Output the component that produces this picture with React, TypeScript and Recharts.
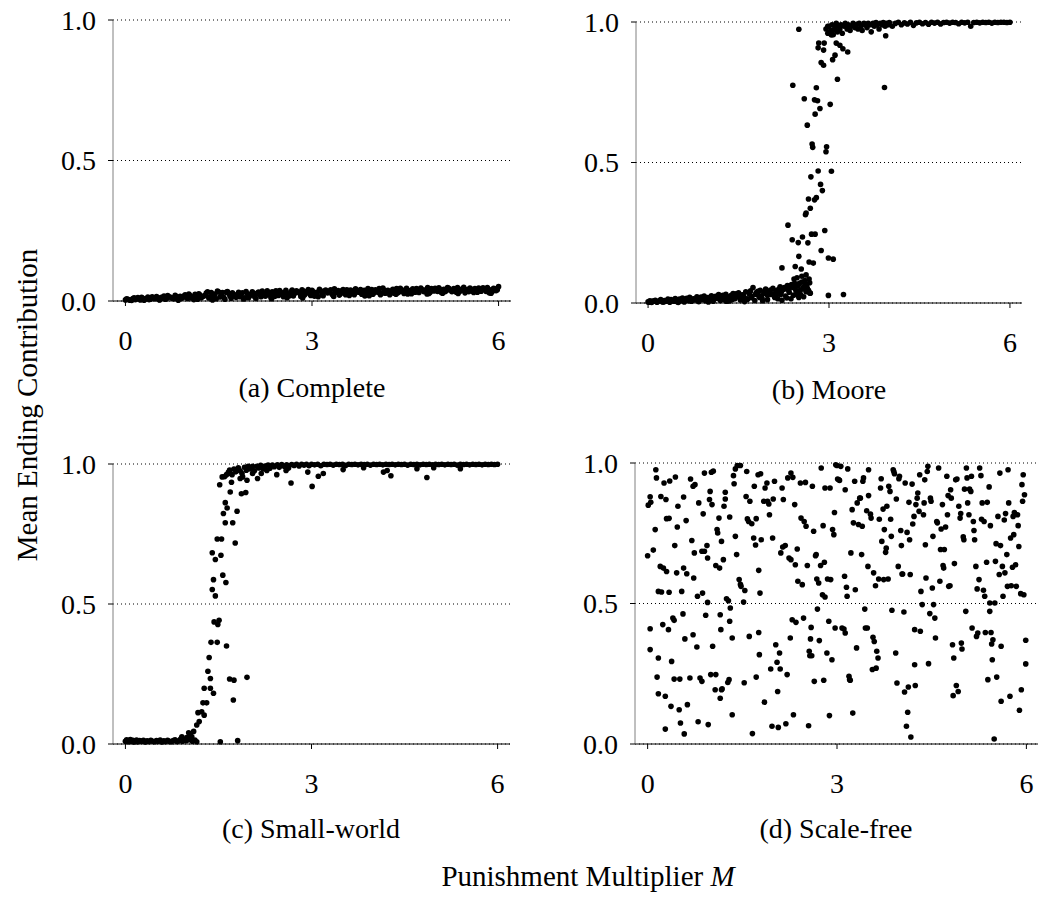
import { CartesianGrid, Scatter, ScatterChart, XAxis, YAxis } from "recharts";

// tick values and labels
const xTicks = [0, 3, 6];
const yTicks = [0, 0.5, 1];
const panelTitles = ["(a) Complete", "(b) Moore", "(c) Small-world", "(d) Scale-free"];
const xTitle = "Punishment Multiplier";
const yTitle = "Mean Ending Contribution";

// (a) complete network: [M, mean ending contribution]
const complete: number[][] = [
  [0.00,0.004],[0.04,0.006],[0.08,0.003],[0.12,0.009],[0.16,0.005],[0.20,0.012],[0.24,0.004],[0.28,0.010],[0.32,0.007],[0.36,0.014],
  [0.40,0.006],[0.45,0.011],[0.50,0.016],[0.54,0.005],[0.58,0.013],[0.62,0.018],[0.66,0.008],[0.70,0.015],[0.75,0.010],[0.80,0.020],
  [0.84,0.007],[0.88,0.017],[0.92,0.012],[0.96,0.022],[1.00,0.009],[1.04,0.019],[1.08,0.014],[1.12,0.024],[1.16,0.006],[1.20,0.021],
  [1.25,0.016],[1.30,0.028],[1.34,0.011],[1.38,0.030],[1.42,0.018],[1.46,0.008],[1.50,0.032],[1.54,0.022],[1.58,0.013],[1.62,0.031],
  [1.66,0.027],[1.70,0.010],[1.75,0.020],[1.80,0.024],[1.84,0.015],[1.88,0.029],[1.92,0.011],[1.96,0.026],[2.00,0.019],[2.04,0.033],
  [2.08,0.014],[2.12,0.028],[2.16,0.022],[2.20,0.035],[2.25,0.017],[2.30,0.030],[2.34,0.012],[2.38,0.026],[2.42,0.036],[2.46,0.020],
  [2.50,0.031],[2.54,0.015],[2.58,0.038],[2.62,0.025],[2.66,0.033],[2.70,0.018],[2.75,0.036],[2.80,0.028],[2.84,0.040],[2.88,0.021],
  [2.92,0.034],[2.96,0.026],[3.00,0.038],[3.04,0.017],[3.08,0.031],[3.12,0.042],[3.16,0.024],[3.20,0.035],[3.25,0.029],[3.30,0.040],
  [3.34,0.020],[3.38,0.033],[3.42,0.037],[3.46,0.026],[3.50,0.041],[3.54,0.022],[3.58,0.034],[3.62,0.039],[3.66,0.028],[3.70,0.043],
  [3.75,0.031],[3.80,0.024],[3.84,0.038],[3.88,0.035],[3.92,0.019],[3.96,0.041],[4.00,0.030],[4.04,0.036],[4.08,0.044],[4.12,0.027],
  [4.16,0.039],[4.20,0.033],[4.25,0.022],[4.30,0.042],[4.34,0.036],[4.38,0.029],[4.42,0.045],[4.46,0.034],[4.50,0.040],[4.54,0.025],
  [4.58,0.037],[4.62,0.043],[4.66,0.031],[4.70,0.038],[4.75,0.046],[4.80,0.033],[4.84,0.041],[4.88,0.027],[4.92,0.044],[4.96,0.036],
  [5.00,0.039],[5.04,0.047],[5.08,0.030],[5.12,0.042],[5.16,0.037],[5.20,0.045],[5.25,0.033],[5.30,0.040],[5.34,0.048],[5.38,0.035],
  [5.42,0.043],[5.46,0.029],[5.50,0.041],[5.54,0.046],[5.58,0.036],[5.62,0.044],[5.66,0.031],[5.70,0.039],[5.75,0.047],[5.80,0.034],
  [5.84,0.042],[5.88,0.028],[5.92,0.045],[5.96,0.037],[6.00,0.051],
  [0.10,0.002],[0.30,0.003],[0.55,0.004],[0.85,0.003],[1.10,0.005],[1.40,0.004],[1.60,0.006],[1.90,0.007],[2.10,0.009],[2.35,0.008],
  [2.60,0.012],[2.85,0.011],[3.10,0.015],[3.35,0.016],[3.60,0.020],[3.85,0.018],[4.10,0.022],[4.35,0.024],[4.60,0.026],[4.85,0.025],
  [5.10,0.028],[5.35,0.027],[5.60,0.030],[5.85,0.029],
  [0.02,0.008],[0.06,0.004],[0.14,0.011],[0.22,0.007],[0.26,0.013],[0.34,0.009],[0.38,0.005],[0.43,0.015],[0.48,0.008],[0.52,0.012],
  [0.60,0.010],[0.64,0.006],[0.68,0.019],[0.73,0.013],[0.78,0.008],[0.82,0.016],[0.90,0.010],[0.94,0.018],[0.98,0.014],[1.02,0.025],
  [1.06,0.011],[1.14,0.017],[1.18,0.026],[1.22,0.012],[1.28,0.020],[1.32,0.033],[1.36,0.015],[1.44,0.025],[1.48,0.035],[1.52,0.014],
  [1.56,0.030],[1.64,0.034],[1.68,0.018],[1.72,0.029],[1.78,0.013],[1.82,0.031],[1.86,0.021],[1.94,0.034],[1.98,0.012],[2.02,0.025],
  [2.06,0.022],[2.14,0.032],[2.18,0.015],[2.22,0.027],[2.28,0.036],[2.32,0.021],[2.36,0.033],[2.40,0.016],[2.44,0.029],[2.48,0.037],
  [2.52,0.023],[2.56,0.030],[2.64,0.019],[2.68,0.039],[2.72,0.027],[2.78,0.033],[2.82,0.016],[2.86,0.035],[2.90,0.029],[2.94,0.041],
  [2.98,0.020],[3.02,0.033],[3.06,0.027],[3.14,0.036],[3.18,0.019],[3.22,0.039],[3.28,0.033],[3.32,0.025],[3.36,0.043],[3.40,0.030],
  [3.44,0.021],[3.48,0.036],[3.52,0.032],[3.56,0.040],[3.64,0.035],[3.68,0.022],[3.72,0.037],[3.78,0.041],[3.82,0.030],[3.86,0.026],
  [3.90,0.044],[3.94,0.033],[3.98,0.024],[4.02,0.040],[4.06,0.031],[4.14,0.046],[4.18,0.028],[4.22,0.038],[4.28,0.035],[4.32,0.028],
  [4.36,0.044],[4.40,0.032],[4.44,0.039],[4.48,0.027],[4.52,0.045],[4.56,0.034],[4.64,0.038],[4.68,0.044],[4.72,0.030],[4.78,0.040],
  [4.82,0.036],[4.86,0.048],[4.90,0.031],[4.94,0.040],[4.98,0.045],[5.02,0.034],[5.06,0.041],[5.14,0.033],[5.18,0.048],[5.22,0.039],
  [5.28,0.044],[5.32,0.031],[5.36,0.042],[5.40,0.038],[5.44,0.049],[5.48,0.036],[5.52,0.033],[5.56,0.042],[5.64,0.039],[5.68,0.046],
  [5.72,0.035],[5.78,0.041],[5.82,0.048],[5.86,0.038],[5.90,0.034],[5.94,0.043],[5.98,0.040],
];

// (b) Moore neighbourhood
const moore: number[][] = [
  [0.00,0.004],[0.03,0.008],[0.06,0.002],[0.09,0.006],[0.12,0.010],[0.15,0.003],[0.18,0.007],[0.21,0.012],[0.24,0.004],[0.27,0.009],
  [0.30,0.006],[0.33,0.014],[0.36,0.003],[0.39,0.010],[0.42,0.007],[0.45,0.016],[0.48,0.005],[0.51,0.011],[0.54,0.008],[0.57,0.018],
  [0.60,0.004],[0.63,0.013],[0.66,0.009],[0.69,0.020],[0.72,0.006],[0.75,0.015],[0.78,0.011],[0.81,0.022],[0.84,0.005],[0.87,0.017],
  [0.90,0.012],[0.93,0.025],[0.96,0.008],[0.99,0.019],[1.02,0.014],[1.05,0.026],[1.08,0.006],[1.11,0.021],[1.14,0.016],[1.17,0.030],
  [1.20,0.009],[1.23,0.023],[1.26,0.013],[1.29,0.031],[1.32,0.018],[1.35,0.007],[1.38,0.027],[1.41,0.034],[1.44,0.015],[1.47,0.024],
  [1.50,0.036],[1.53,0.011],[1.56,0.029],[1.59,0.020],[1.62,0.040],[1.65,0.013],[1.68,0.032],[1.71,0.024],[1.74,0.055],[1.77,0.009],
  [1.80,0.038],[1.83,0.027],[1.86,0.045],[1.89,0.017],[1.92,0.035],[1.95,0.050],[1.98,0.012],[2.01,0.041],[2.04,0.030],[2.07,0.052],
  [2.10,0.020],[2.13,0.044],[2.16,0.034],[2.19,0.058],[2.22,0.010],[2.25,0.048],[2.28,0.025],[2.31,0.062],[2.34,0.038],[2.37,0.015],
  [2.40,0.055],[2.43,0.070],[2.46,0.030],[2.49,0.062],[2.52,0.045],[2.55,0.075],[2.58,0.022],[2.61,0.068],[2.64,0.052],[2.67,0.085],
  [2.69,0.035],[0.50,0.002],[1.00,0.004],[1.30,0.006],[1.60,0.005],[1.90,0.008],[2.20,0.030],[2.35,0.060],[2.45,0.045],[2.58,0.058],
  [2.62,0.040],[2.50,0.020],[2.15,0.015],[1.85,0.020],[1.70,0.043],[1.45,0.030],[2.42,0.085],[2.47,0.090],[2.55,0.095],[2.62,0.100],
  [0.02,0.003],[0.08,0.007],[0.14,0.005],[0.20,0.009],[0.26,0.004],[0.32,0.008],[0.38,0.012],[0.44,0.006],[0.52,0.014],[0.58,0.009],
  [0.64,0.017],[0.70,0.008],[0.76,0.013],[0.82,0.010],[0.88,0.021],[0.94,0.012],[1.00,0.018],[1.06,0.011],[1.12,0.024],[1.18,0.015],
  [1.24,0.027],[1.28,0.010],[1.34,0.022],[1.40,0.013],[1.46,0.033],[1.52,0.019],[1.58,0.028],[1.64,0.015],[1.68,0.037],[1.72,0.019],
  [1.78,0.031],[1.82,0.042],[1.88,0.025],[1.94,0.040],[1.98,0.028],[2.03,0.046],[2.08,0.033],[2.12,0.024],[2.17,0.050],[2.21,0.039],
  [2.26,0.055],[2.30,0.018],[2.33,0.045],[2.38,0.066],[2.41,0.028],[2.44,0.058],[2.48,0.038],[2.51,0.070],[2.53,0.030],[2.56,0.050],
  [2.60,0.080],[2.63,0.062],[2.66,0.045],[2.68,0.072],
  [2.50,0.974],[2.40,0.775],[2.59,0.727],[2.79,0.766],[2.76,0.723],[2.81,0.720],[2.85,0.692],[2.77,0.672],[2.64,0.633],[3.02,0.707],
  [2.72,0.566],[2.73,0.554],[2.96,0.556],[2.95,0.538],[3.04,0.469],[2.82,0.470],[2.70,0.449],[2.86,0.422],[2.89,0.400],[2.66,0.370],
  [2.76,0.367],[2.79,0.375],[2.69,0.337],[2.61,0.314],[2.62,0.320],[2.32,0.277],[2.93,0.258],[2.71,0.245],[2.77,0.245],[2.56,0.235],
  [2.39,0.225],[2.49,0.215],[2.65,0.214],[2.87,0.187],[2.50,0.166],[2.99,0.160],[3.07,0.156],[2.67,0.146],[2.74,0.142],[2.44,0.130],
  [2.22,0.125],[2.54,0.121],[2.99,0.027],[3.24,0.030],[2.68,0.036],[2.82,0.908],[2.83,0.925],[2.92,0.925],[2.91,0.900],[2.87,0.856],
  [2.91,0.846],[3.06,0.866],[3.10,0.882],[3.12,0.925],[3.18,0.917],[3.23,0.905],[3.31,0.893],[3.14,0.796],[3.92,0.767],[3.94,0.951],
  [3.04,0.954],[2.98,0.985],[3.09,0.973],
  [2.95,0.975],[2.98,0.960],[3.00,0.985],[3.03,0.970],[3.05,0.990],[3.07,0.955],[3.10,0.980],[3.12,0.995],[3.14,0.965],[3.16,0.985],
  [3.18,0.975],[3.20,0.990],[3.22,0.960],[3.25,0.985],[3.27,0.995],[3.30,0.975],[3.32,0.990],[3.35,0.970],[3.37,0.985],[3.40,0.995],
  [3.43,0.980],[3.45,0.990],[3.48,0.975],[3.50,0.995],[3.53,0.985],[3.55,0.970],[3.58,0.995],[3.60,0.990],[3.63,0.980],[3.65,0.995],
  [3.68,0.990],[3.70,0.965],[3.73,0.995],[3.75,0.985],[3.78,0.998],[3.80,0.990],[3.83,0.975],[3.85,0.995],[3.88,0.990],[3.90,0.998],
  [3.93,0.985],[3.95,0.995],[3.98,0.990],[4.00,0.998],[4.05,0.985],[4.10,0.995],[4.15,0.999],[4.20,0.990],[4.25,0.997],[4.30,0.993],
  [4.35,0.999],[4.40,0.988],[4.45,0.997],[4.50,0.999],[4.55,0.994],[4.60,0.998],[4.65,0.992],[4.70,0.999],[4.75,0.996],[4.80,0.999],
  [4.85,0.993],[4.90,0.998],[4.95,0.999],[5.00,0.996],[5.05,0.999],[5.10,0.998],[5.15,0.994],[5.20,0.999],[5.25,0.997],[5.30,0.999],
  [5.35,0.985],[5.40,0.998],[5.45,0.999],[5.50,0.997],[5.55,0.999],[5.60,0.998],[5.65,0.999],[5.70,0.996],[5.75,0.999],[5.80,0.998],
  [5.85,0.999],[5.90,0.999],[5.95,0.998],[6.00,0.999],
];

// (c) small-world network
const smallWorld: number[][] = [
  [0.00,0.010],[0.02,0.015],[0.04,0.008],[0.06,0.012],[0.08,0.016],[0.10,0.009],[0.12,0.013],[0.14,0.007],[0.16,0.011],[0.18,0.014],
  [0.20,0.008],[0.23,0.012],[0.26,0.010],[0.29,0.013],[0.32,0.007],[0.35,0.011],[0.38,0.009],[0.41,0.013],[0.44,0.010],[0.47,0.008],
  [0.50,0.012],[0.53,0.010],[0.56,0.014],[0.59,0.007],[0.62,0.011],[0.65,0.009],[0.68,0.013],[0.71,0.010],[0.74,0.008],[0.77,0.012],
  [0.80,0.015],[0.83,0.009],[0.86,0.011],[0.89,0.018],[0.92,0.010],[0.95,0.014],[0.98,0.012],[1.00,0.020],[1.03,0.015],[1.05,0.030],
  [1.08,0.010],[1.10,0.045],
  [1.02,0.040],[1.07,0.026],[1.12,0.014],[1.15,0.008],[0.91,0.026],[0.99,0.023],[1.15,0.068],[1.19,0.080],[1.17,0.112],[1.23,0.115],
  [1.27,0.103],[1.31,0.147],[1.25,0.147],[1.27,0.199],[1.37,0.199],[1.42,0.181],[1.33,0.260],[1.37,0.234],[1.35,0.309],[1.38,0.363],
  [1.48,0.363],[1.63,0.350],[1.43,0.436],[1.51,0.442],[1.49,0.427],[1.40,0.552],[1.45,0.529],[1.42,0.587],[1.57,0.603],[1.62,0.577],
  [1.40,0.683],[1.45,0.659],[1.54,0.674],[1.48,0.732],[1.55,0.732],[1.77,0.718],[1.61,0.790],[1.73,0.790],[1.58,0.823],[1.64,0.843],
  [1.80,0.831],[1.61,0.862],[1.69,0.900],[1.87,0.894],[1.94,0.898],[1.52,0.926],[1.71,0.935],[1.56,0.954],[1.69,0.966],[1.85,0.948],
  [1.89,0.954],[1.96,0.942],[2.05,0.966],[2.13,0.948],[2.19,0.966],[2.28,0.977],[2.44,0.962],[2.59,0.977],[2.67,0.932],[2.94,0.971],
  [3.01,0.920],[3.11,0.956],[3.19,0.966],[3.51,0.980],[3.84,0.987],[4.16,0.971],[4.22,0.977],[4.28,0.958],[4.70,0.983],[4.86,0.952],
  [4.97,0.987],[5.40,0.983],[1.53,0.008],[1.81,0.012],[1.68,0.232],[1.75,0.228],[1.74,0.157],[1.96,0.238],
  [1.60,0.955],[1.63,0.962],[1.66,0.970],[1.68,0.978],[1.72,0.962],[1.75,0.982],[1.78,0.972],[1.82,0.986],[1.85,0.976],[1.88,0.966],
  [1.92,0.988],[1.95,0.978],[1.98,0.992],[2.02,0.982],[2.05,0.992],[2.08,0.976],[2.12,0.992],[2.15,0.986],[2.18,0.995],[2.22,0.982],
  [2.25,0.993],[2.30,0.996],[2.33,0.985],[2.37,0.996],[2.40,0.990],[2.45,0.997],[2.48,0.988],[2.52,0.998],[2.56,0.992],[2.60,0.997],
  [2.63,0.986],[2.68,0.998],[2.72,0.995],[2.76,0.999],[2.80,0.993],[2.84,0.999],[2.88,0.996],[2.92,0.999],[2.96,0.994],[3.00,0.999],
  [3.05,0.997],[3.10,0.999],[3.15,0.994],[3.20,0.999],[3.25,0.998],[3.30,0.999],[3.35,0.996],[3.40,0.999],[3.45,0.998],[3.50,0.999],
  [3.55,0.995],[3.60,0.999],[3.65,0.998],[3.70,0.999],[3.75,0.997],[3.80,0.999],[3.85,0.998],[3.90,0.999],[3.95,0.996],[4.00,0.999],
  [4.05,0.998],[4.10,0.999],[4.15,0.997],[4.20,0.999],[4.25,0.998],[4.30,0.999],[4.35,0.997],[4.40,0.999],[4.45,0.998],[4.50,0.999],
  [4.55,0.996],[4.60,0.999],[4.65,0.998],[4.70,0.999],[4.75,0.997],[4.80,0.999],[4.85,0.998],[4.90,0.999],[4.95,0.997],[5.00,0.999],
  [5.05,0.998],[5.10,0.999],[5.15,0.997],[5.20,0.999],[5.25,0.998],[5.30,0.999],[5.35,0.996],[5.40,0.999],[5.45,0.998],[5.50,0.999],
  [5.55,0.997],[5.60,0.999],[5.65,0.998],[5.70,0.999],[5.75,0.997],[5.80,0.999],[5.85,0.998],[5.90,0.999],[5.95,0.998],[6.00,0.999],
];

// (d) scale-free network
const scaleFree: number[][] = [
  [0.01,0.850],[0.04,0.880],[0.05,0.860],[0.00,0.670],[0.09,0.690],[0.13,0.976],[0.14,0.947],[0.12,0.763],[0.04,0.410],[0.04,0.336],
  [0.15,0.238],[0.17,0.179],[0.17,0.306],[0.20,0.632],[0.17,0.543],[0.22,0.541],[0.21,0.881],[0.24,0.425],[0.28,0.170],[0.28,0.053],
  [0.26,0.929],[0.29,0.870],[0.25,0.626],[0.30,0.802],[0.33,0.407],[0.30,0.614],[0.34,0.803],[0.35,0.936],[0.34,0.540],[0.38,0.294],
  [0.37,0.134],[0.40,0.448],[0.42,0.440],[0.42,0.231],[0.44,0.950],[0.43,0.706],[0.46,0.609],[0.47,0.772],[0.48,0.846],[0.50,0.122],
  [0.51,0.231],[0.52,0.075],[0.54,0.543],[0.56,0.463],[0.58,0.036],[0.57,0.626],[0.59,0.374],[0.61,0.795],[0.63,0.140],[0.57,0.879],
  [0.62,0.606],[0.68,0.943],[0.70,0.724],[0.72,0.917],[0.67,0.235],[0.73,0.591],[0.74,0.680],[0.72,0.389],[0.75,0.923],[0.78,0.345],
  [0.79,0.526],[0.80,0.079],[0.81,0.858],[0.83,0.235],[0.86,0.223],[0.87,0.537],[0.86,0.686],[0.88,0.819],[0.90,0.964],[0.90,0.686],
  [0.92,0.458],[0.95,0.504],[0.94,0.706],[0.95,0.662],[0.96,0.069],[0.98,0.870],[0.99,0.899],[1.00,0.247],[1.01,0.967],[1.03,0.348],
  [1.04,0.971],[1.02,0.852],[1.07,0.193],[1.08,0.635],[1.08,0.247],[1.10,0.763],[1.11,0.751],[1.13,0.804],[1.14,0.626],[1.15,0.163],
  [1.15,0.460],[1.17,0.193],[1.18,0.196],[1.16,0.407],[1.17,0.721],[1.20,0.656],[1.21,0.846],[1.23,0.896],[1.23,0.872],[1.25,0.517],
  [1.28,0.510],[1.31,0.484],[1.30,0.808],[1.27,0.219],[1.29,0.229],[1.30,0.437],[1.34,0.104],[1.34,0.377],[1.36,0.955],[1.37,0.926],
  [1.39,0.739],[1.41,0.674],[1.39,0.979],[1.42,0.991],[1.47,0.991],[1.45,0.585],[1.47,0.568],[1.48,0.561],[1.52,0.505],[1.53,0.218],
  [1.54,0.546],[1.56,0.881],[1.57,0.970],[1.58,0.801],[1.60,0.792],[1.61,0.383],[1.62,0.864],[1.65,0.784],[1.66,0.037],[1.68,0.733],
  [1.69,0.917],[1.71,0.708],[1.72,0.238],[1.72,0.802],[1.75,0.958],[1.76,0.397],[1.76,0.618],[1.77,0.318],[1.78,0.537],[1.79,0.962],
  [1.80,0.727],[1.84,0.864],[1.85,0.149],[1.86,0.911],[1.89,0.929],[1.90,0.864],[1.92,0.854],[1.93,0.816],[1.95,0.267],[1.97,0.063],
  [1.98,0.733],[1.99,0.872],[2.01,0.935],[2.03,0.353],[2.05,0.291],[2.06,0.187],[2.07,0.059],[2.09,0.324],[2.10,0.267],[2.11,0.680],
  [2.13,0.911],[2.14,0.701],[2.15,0.870],[2.18,0.706],[2.19,0.072],[2.21,0.247],[2.22,0.947],[2.24,0.662],[2.26,0.377],[2.27,0.964],
  [2.27,0.656],[2.29,0.442],[2.30,0.949],[2.31,0.104],[2.34,0.638],[2.33,0.852],[2.35,0.433],[2.37,0.694],[2.38,0.579],[2.42,0.929],
  [2.43,0.804],[2.45,0.567],[2.47,0.448],[2.48,0.792],[2.50,0.931],[2.51,0.775],[2.53,0.635],[2.55,0.065],[2.56,0.330],[2.57,0.314],
  [2.58,0.374],[2.59,0.415],[2.60,0.314],[2.61,0.917],[2.63,0.757],[2.64,0.223],[2.66,0.670],[2.67,0.674],[2.68,0.587],[2.69,0.480],
  [2.71,0.573],[2.72,0.368],[2.74,0.635],[2.75,0.982],[2.77,0.531],[2.78,0.777],[2.79,0.227],[2.80,0.647],[2.81,0.911],[2.81,0.523],
  [2.84,0.324],[2.85,0.587],[2.87,0.437],[2.88,0.101],[2.89,0.911],[2.90,0.585],[2.92,0.300],[2.93,0.763],[2.95,0.745],[2.96,0.824],
  [2.97,0.413],[2.98,0.994],[3.00,0.991],[3.01,0.943],[3.03,0.940],[3.04,0.938],[3.06,0.988],[3.08,0.413],[3.11,0.409],[3.12,0.597],
  [3.13,0.395],[3.13,0.905],[3.15,0.558],[3.16,0.526],[3.17,0.979],[3.19,0.241],[3.20,0.229],[3.21,0.227],[3.22,0.680],[3.24,0.834],
  [3.25,0.110],[3.26,0.787],[3.28,0.935],[3.29,0.549],[3.31,0.342],[3.32,0.858],[3.34,0.781],[3.36,0.875],[3.37,0.875],[3.39,0.674],
  [3.40,0.775],[3.41,0.935],[3.42,0.947],[3.44,0.480],[3.45,0.413],[3.47,0.830],[3.48,0.413],[3.49,0.632],[3.50,0.976],[3.50,0.884],
  [3.53,0.818],[3.54,0.804],[3.56,0.265],[3.57,0.380],[3.58,0.609],[3.59,0.365],[3.61,0.563],[3.62,0.270],[3.63,0.330],[3.65,0.306],
  [3.66,0.587],[3.67,0.800],[3.69,0.911],[3.70,0.944],[3.71,0.721],[3.73,0.836],[3.74,0.585],[3.75,0.763],[3.77,0.682],[3.78,0.697],
  [3.79,0.846],[3.81,0.587],[3.82,0.917],[3.84,0.899],[3.85,0.800],[3.86,0.739],[3.87,0.476],[3.89,0.976],[3.90,0.970],[3.91,0.962],
  [3.93,0.324],[3.94,0.872],[3.95,0.217],[3.97,0.632],[3.98,0.944],[3.99,0.953],[4.01,0.760],[4.02,0.706],[4.03,0.605],[4.04,0.605],
  [4.06,0.470],[4.07,0.185],[4.08,0.929],[4.10,0.063],[4.11,0.753],[4.12,0.113],[4.13,0.203],[4.14,0.860],[4.15,0.727],[4.16,0.603],
  [4.17,0.025],[4.19,0.925],[4.20,0.783],[4.22,0.810],[4.23,0.407],[4.23,0.282],[4.24,0.208],[4.25,0.852],[4.27,0.875],[4.28,0.893],
  [4.30,0.828],[4.31,0.958],[4.32,0.401],[4.33,0.543],[4.35,0.496],[4.37,0.816],[4.38,0.858],[4.39,0.940],[4.40,0.709],[4.41,0.591],
  [4.43,0.970],[4.44,0.988],[4.45,0.286],[4.47,0.464],[4.48,0.875],[4.49,0.864],[4.51,0.555],[4.52,0.739],[4.53,0.496],[4.55,0.448],
  [4.56,0.377],[4.58,0.792],[4.59,0.787],[4.61,0.982],[4.63,0.579],[4.64,0.692],[4.65,0.765],[4.67,0.852],[4.68,0.635],[4.69,0.626],
  [4.70,0.692],[4.72,0.772],[4.74,0.953],[4.75,0.816],[4.76,0.884],[4.77,0.561],[4.79,0.563],[4.80,0.905],[4.81,0.875],[4.83,0.353],
  [4.84,0.172],[4.85,0.306],[4.86,0.642],[4.88,0.940],[4.89,0.208],[4.90,0.943],[4.92,0.187],[4.93,0.846],[4.95,0.804],[4.96,0.820],
  [4.97,0.359],[4.98,0.338],[5.00,0.737],[5.01,0.727],[5.02,0.907],[5.04,0.472],[5.05,0.982],[5.06,0.947],[5.07,0.858],[5.09,0.816],
  [5.10,0.907],[5.12,0.899],[5.13,0.953],[5.14,0.413],[5.16,0.792],[5.17,0.760],[5.18,0.727],[5.20,0.632],[5.21,0.383],[5.22,0.552],
  [5.23,0.395],[5.25,0.585],[5.26,0.982],[5.28,0.955],[5.29,0.800],[5.30,0.858],[5.32,0.547],[5.33,0.792],[5.34,0.526],[5.35,0.397],
  [5.37,0.647],[5.38,0.860],[5.39,0.229],[5.41,0.915],[5.42,0.502],[5.42,0.472],[5.43,0.777],[5.44,0.397],[5.45,0.356],[5.46,0.300],
  [5.47,0.371],[5.49,0.018],[5.50,0.502],[5.51,0.650],[5.52,0.713],[5.53,0.238],[5.55,0.810],[5.57,0.603],[5.58,0.964],[5.59,0.706],
  [5.60,0.348],[5.60,0.152],[5.62,0.632],[5.63,0.526],[5.65,0.797],[5.66,0.609],[5.67,0.820],[5.69,0.674],[5.70,0.561],[5.71,0.976],
  [5.72,0.858],[5.74,0.170],[5.75,0.733],[5.76,0.563],[5.78,0.629],[5.79,0.810],[5.80,0.745],[5.81,0.824],[5.83,0.638],[5.84,0.561],
  [5.86,0.816],[5.87,0.777],[5.88,0.703],[5.89,0.120],[5.91,0.535],[5.92,0.193],[5.93,0.923],[5.94,0.864],[5.95,0.958],[5.96,0.531],
  [5.97,0.887],[5.99,0.369],[5.99,0.285],
];

const FONT = "'Liberation Serif', 'DejaVu Serif', serif";
const Y_W = 60;
const X_H = 60;
const M_TOP = 20;

const boxes = [
  { left: 113, right: 511, top: 20, bottom: 301 },
  { left: 636, right: 1022, top: 22, bottom: 303 },
  { left: 113, right: 510, top: 464, bottom: 744 },
  { left: 635, right: 1039, top: 463, bottom: 744 },
];
const titlePos = [
  { x: 312, y: 388 },
  { x: 829, y: 390 },
  { x: 311, y: 829 },
  { x: 836, y: 829 },
];

function Dot(props: any) {
  const { cx, cy } = props;
  if (cx == null || cy == null) return null;
  return <circle cx={cx} cy={cy} r={2.8} fill="#000" />;
}

function Panel({ rows, box }: { rows: number[][]; box: { left: number; right: number; top: number; bottom: number } }) {
  const data = rows.map(([x, y]) => ({ x, y }));
  const w = box.right - box.left;
  const h = box.bottom - box.top;
  const tickStyle = { fill: "#000", fontSize: 28, fontFamily: FONT };
  return (
    <div style={{ position: "absolute", left: box.left - Y_W, top: box.top - M_TOP }}>
      <ScatterChart width={w + Y_W + 4} height={h + M_TOP + X_H} margin={{ top: M_TOP, right: 4, bottom: 0, left: 0 }}>
        <CartesianGrid vertical={false} stroke="#000" strokeDasharray="1 3" />
        <XAxis
          type="number"
          dataKey="x"
          domain={[-0.2, 6.2]}
          ticks={xTicks}
          height={X_H}
          tickSize={5}
          tickMargin={24}
          axisLine={{ stroke: "#000" }}
          tickLine={{ stroke: "#000" }}
          tick={tickStyle}
          allowDataOverflow
        />
        <YAxis
          type="number"
          dataKey="y"
          domain={[0, 1]}
          ticks={yTicks}
          width={Y_W}
          tickSize={5}
          tickMargin={12}
          tickFormatter={(v: number) => v.toFixed(1)}
          axisLine={{ stroke: "#808080" }}
          tickLine={{ stroke: "#000" }}
          tick={tickStyle}
        />
        <Scatter data={data} shape={<Dot />} isAnimationActive={false} />
      </ScatterChart>
    </div>
  );
}

const label = (x: number, y: number, size: number): React.CSSProperties => ({
  position: "absolute",
  left: x,
  top: y,
  transform: "translate(-50%, -50%)",
  fontSize: size,
  lineHeight: 1,
  whiteSpace: "nowrap",
});

export default function App() {
  const series = [complete, moore, smallWorld, scaleFree];
  return (
    <div style={{ position: "absolute", left: 0, top: 0, width: 1038, height: 897, overflow: "hidden", background: "#fff", fontFamily: FONT, color: "#000" }}>
      {series.map((rows, i) => (
        <Panel key={panelTitles[i]} rows={rows} box={boxes[i]} />
      ))}
      {panelTitles.map((t, i) => (
        <div key={t} style={label(titlePos[i].x, titlePos[i].y, 28)}>{t}</div>
      ))}
      <div style={label(588, 876, 29)}>
        {xTitle} <i>M</i>
      </div>
      <div style={{ ...label(27, 405, 29), transform: "translate(-50%, -50%) rotate(-90deg)" }}>{yTitle}</div>
    </div>
  );
}
